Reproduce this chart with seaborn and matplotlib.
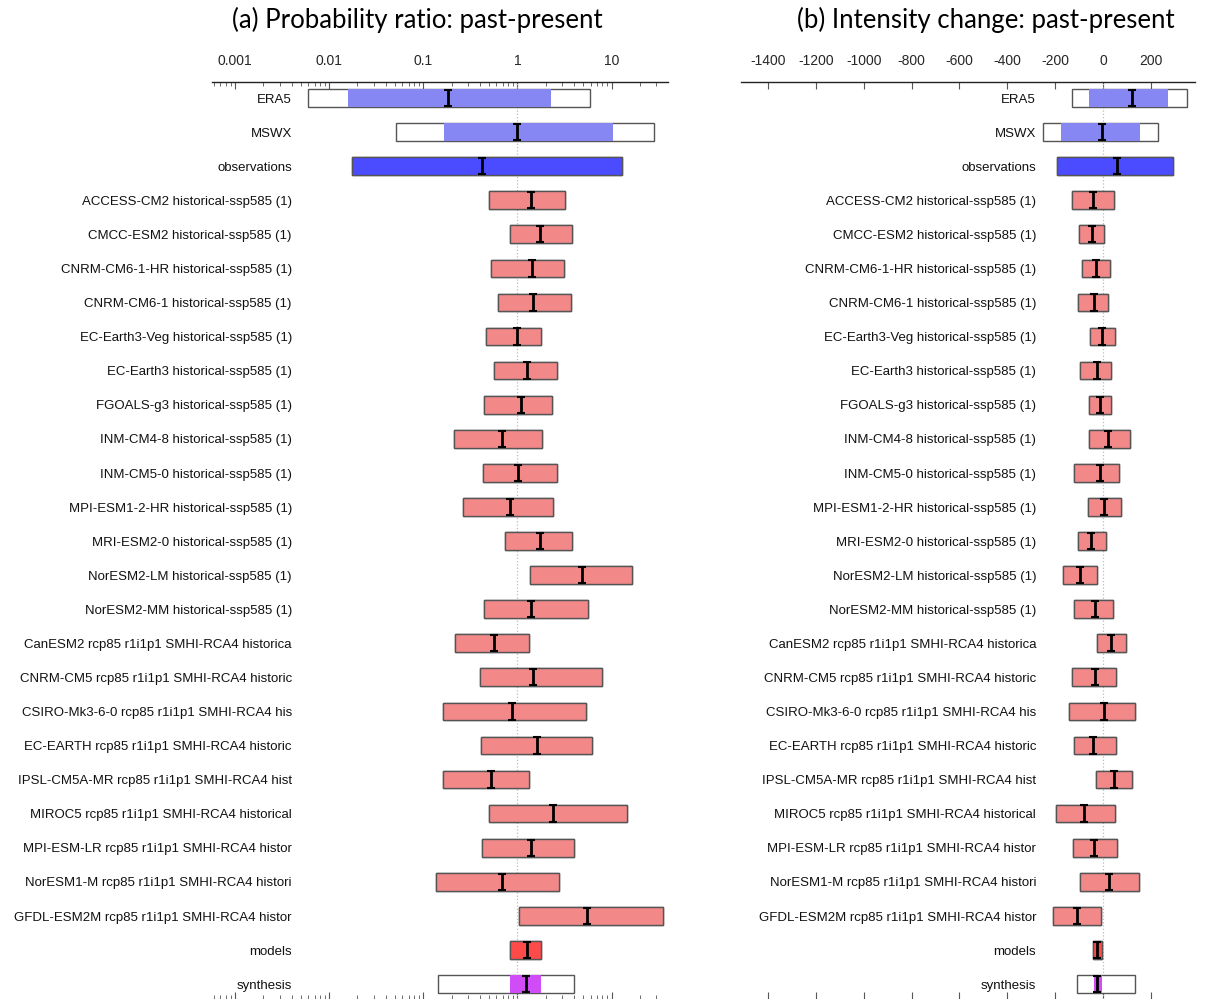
import numpy as np
import matplotlib
matplotlib.use("Agg")
import matplotlib.pyplot as plt
import matplotlib.transforms as mtransforms
from matplotlib.patches import Rectangle
import seaborn as sns

labels = [
    "ERA5", "MSWX", "observations",
    "ACCESS-CM2 historical-ssp585 (1)",
    "CMCC-ESM2 historical-ssp585 (1)",
    "CNRM-CM6-1-HR historical-ssp585 (1)",
    "CNRM-CM6-1 historical-ssp585 (1)",
    "EC-Earth3-Veg historical-ssp585 (1)",
    "EC-Earth3 historical-ssp585 (1)",
    "FGOALS-g3 historical-ssp585 (1)",
    "INM-CM4-8 historical-ssp585 (1)",
    "INM-CM5-0 historical-ssp585 (1)",
    "MPI-ESM1-2-HR historical-ssp585 (1)",
    "MRI-ESM2-0 historical-ssp585 (1)",
    "NorESM2-LM historical-ssp585 (1)",
    "NorESM2-MM historical-ssp585 (1)",
    "CanESM2 rcp85 r1i1p1 SMHI-RCA4 historica",
    "CNRM-CM5 rcp85 r1i1p1 SMHI-RCA4 historic",
    "CSIRO-Mk3-6-0 rcp85 r1i1p1 SMHI-RCA4 his",
    "EC-EARTH rcp85 r1i1p1 SMHI-RCA4 historic",
    "IPSL-CM5A-MR rcp85 r1i1p1 SMHI-RCA4 hist",
    "MIROC5 rcp85 r1i1p1 SMHI-RCA4 historical",
    "MPI-ESM-LR rcp85 r1i1p1 SMHI-RCA4 histor",
    "NorESM1-M rcp85 r1i1p1 SMHI-RCA4 histori",
    "GFDL-ESM2M rcp85 r1i1p1 SMHI-RCA4 histor",
    "models", "synthesis",
]
kinds = ["obs", "obs", "obs_all"] + ["model"] * 22 + ["model_all", "synth"]

# probability ratio: best estimate, inner range, outer range
pr_mid = [0.181, 0.98, 0.426, 1.41, 1.75, 1.44, 1.48, 0.98, 1.25, 1.08, 0.68, 1.02,
          0.84, 1.75, 4.89, 1.41, 0.57, 1.48, 0.885, 1.63, 0.53, 2.41, 1.41, 0.68,
          5.52, 1.25, 1.22]
pr_lo = [0.0157, 0.168, 0.0174, 0.505, 0.84, 0.53, 0.63, 0.46, 0.56, 0.447, 0.21, 0.436,
         0.267, 0.746, 1.37, 0.447, 0.22, 0.405, 0.164, 0.415, 0.164, 0.505, 0.426, 0.138,
         1.05, 0.84, 0.84]
pr_hi = [2.29, 10.4, 13.0, 3.23, 3.83, 3.15, 3.74, 1.80, 2.66, 2.35, 1.84, 2.66,
         2.41, 3.83, 16.6, 5.66, 1.34, 7.95, 5.39, 6.24, 1.34, 14.7, 4.02, 2.79,
         35.3, 1.80, 1.80]
pr_out_lo = [0.0059, 0.0508] + pr_lo[2:26] + [0.145]
pr_out_hi = [5.94, 28.4] + pr_hi[2:26] + [4.02]

# intensity change
ic_mid = [121, -4, 58, -42, -46, -29, -37, -4, -25, -12, 21, -12, 4, -50, -96, -33,
          33, -33, 4, -42, 46, -79, -37, 25, -108, -25, -25]
ic_lo = [-58, -175, -192, -129, -100, -87, -104, -54, -96, -58, -58, -121, -62, -104,
         -167, -121, -25, -129, -142, -121, -29, -196, -125, -96, -208, -42, -37]
ic_hi = [271, 154, 292, 46, 4, 29, 21, 50, 33, 33, 112, 67, 75, 12, -25, 42, 96, 54,
         133, 54, 121, 50, 58, 150, -8, -4, -4]
ic_out_lo = [-129, -250] + ic_lo[2:26] + [-108]
ic_out_hi = [350, 229] + ic_hi[2:26] + [133]

colors = {"obs": "#8787f4", "obs_all": "#4b4bff", "model": "#f28888",
          "model_all": "#ff4a4a", "synth": "#cf4cf7"}

sns.set_theme(style="white")
plt.rcParams["font.family"] = ["Liberation Sans", "DejaVu Sans"]

fig = plt.figure(figsize=(12.08, 9.99), dpi=100)
W, H = 1208, 999
top = 1 - 81.5 / H
ax1 = fig.add_axes([212 / W, 0, (668 - 212) / W, top])
ax2 = fig.add_axes([741 / W, 0, (1195 - 741) / W, top])

n = len(labels)
ypos = np.arange(n)
bh = 0.52


def draw_panel(ax, mid, lo, hi, olo, ohi, ref, label_x):
    for i in range(n):
        k = kinds[i]
        ax.add_patch(Rectangle((olo[i], i - bh / 2), ohi[i] - olo[i], bh,
                               facecolor="white", edgecolor="#555555", lw=1.0, zorder=2))
        ax.add_patch(Rectangle((lo[i], i - bh / 2), hi[i] - lo[i], bh,
                               facecolor=colors[k], edgecolor="none", zorder=3))
        if k not in ("obs", "synth"):
            ax.add_patch(Rectangle((olo[i], i - bh / 2), ohi[i] - olo[i], bh,
                                   facecolor="none", edgecolor="#555555", lw=1.0, zorder=4))
    ax.errorbar(mid, ypos, yerr=0.24, fmt="none", ecolor="black", elinewidth=2,
                capsize=3, capthick=1.5, zorder=5)
    ax.axvline(ref, color="#bbbbbb", ls=":", lw=0.9, zorder=1)
    trans = mtransforms.blended_transform_factory(ax.transAxes, ax.transData)
    for i, lab in enumerate(labels):
        ax.text(label_x, i + 0.05, lab, transform=trans, ha="right", va="center",
                fontsize=9.5, color="#111111")
    ax.set_ylim(26.44, -0.484)
    ax.set_yticks([])
    for s in ["left", "right", "bottom"]:
        ax.spines[s].set_visible(False)
    ax.spines["top"].set_color("#222222")
    ax.spines["top"].set_linewidth(1.0)
    ax.xaxis.set_ticks_position("both")
    ax.tick_params(axis="x", which="both", direction="in", top=True, bottom=True,
                   labeltop=True, labelbottom=False, labelsize=10, pad=10,
                   color="#555555")
    ax.tick_params(axis="x", which="major", length=5, width=0.8)
    ax.tick_params(axis="x", which="minor", length=3, width=0.6)


draw_panel(ax1, pr_mid, pr_lo, pr_hi, pr_out_lo, pr_out_hi, 1, 0.175)
ax1.set_xscale("log")
ax1.set_xlim(10 ** -3.244, 10 ** 1.60)
ax1.set_xticks([0.001, 0.01, 0.1, 1, 10])
ax1.set_xticklabels(["0.001", "0.01", "0.1", "1", "10"])

draw_panel(ax2, ic_mid, ic_lo, ic_hi, ic_out_lo, ic_out_hi, 0, 0.65)
ax2.set_xlim(-1512, 383)
ax2.set_xticks(np.arange(-1400, 201, 200))
ax2.set_xticklabels([str(v) for v in range(-1400, 201, 200)])

fig.text(417 / W, 1 - 20 / H, "(a) Probability ratio: past-present",
         ha="center", va="center", fontsize=18.5, color="black",
         family=["Lato", "DejaVu Sans"])
fig.text(986 / W, 1 - 20 / H, "(b) Intensity change: past-present",
         ha="center", va="center", fontsize=18.5, color="black",
         family=["Lato", "DejaVu Sans"])

fig.savefig("out.png", dpi=100)
